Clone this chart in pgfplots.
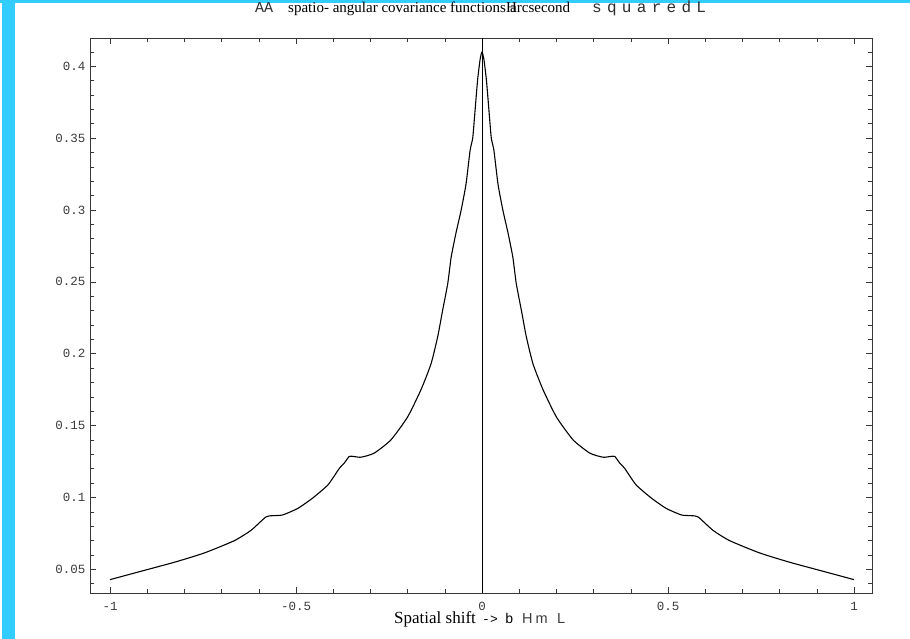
\documentclass[border=0pt]{standalone}
\usepackage{fontspec}
\setmainfont{Liberation Serif}
\newfontfamily\mono{Liberation Mono}
\newfontfamily\sansf{Liberation Sans}
\usepackage{pgfplots}
\usepackage{graphicx}
\pgfplotsset{compat=1.18}
\definecolor{cyanbar}{RGB}{51,204,255}
\definecolor{framegray}{RGB}{55,55,55}
\definecolor{labgray}{RGB}{60,60,60}
\definecolor{titlegray}{RGB}{45,45,45}
\begin{document}
\begin{tikzpicture}[x=1pt,y=1pt]
\useasboundingbox (0,0) rectangle (910,639);
\fill[white] (0,0) rectangle (910,639);
\fill[cyanbar] (1.5,0) rectangle (15,639);
\fill[cyanbar] (0,635.7) rectangle (910,639);
\begin{axis}[
  at={(90pt,46pt)}, anchor=south west,
  scale only axis, width=782pt, height=555pt,
  xmin=-1.0538, xmax=1.0484, ymin=0.0335, ymax=0.4197,
  axis line style={framegray, line width=0.8pt},
  tick style={framegray, line width=0.6pt},
  tick align=inside,
  major tick length=6pt, minor tick length=4pt,
  xtick={-1,-0.5,0,0.5,1},
  xticklabels={-1,-0.5,0,0.5,1},
  minor xtick={-0.9,-0.8,-0.7,-0.6,-0.4,-0.3,-0.2,-0.1,0.1,0.2,0.3,0.4,0.6,0.7,0.8,0.9},
  ytick={0.05,0.1,0.15,0.2,0.25,0.3,0.35,0.4},
  yticklabels={0.05,0.1,0.15,0.2,0.25,0.3,0.35,0.4},
  minor ytick={0.04,0.06,0.07,0.08,0.09,0.11,0.12,0.13,0.14,0.16,0.17,0.18,0.19,0.21,0.22,0.23,0.24,0.26,0.27,0.28,0.29,0.31,0.32,0.33,0.34,0.36,0.37,0.38,0.39,0.41},
  ticklabel style={font=\mono\fontsize{12.5}{12.5}\selectfont, text=labgray},
  xticklabel style={yshift=-6pt},
  yticklabel style={xshift=-1pt},
  clip=false,
]
\addplot[black, line width=0.7pt] coordinates {(0,0.0335) (0,0.4197)};
\addplot[black, line width=1.1pt, line join=round, smooth, tension=0.35] coordinates {
(-1.0,0.0428) (-0.917,0.0486) (-0.827,0.0549) (-0.746,0.0614) (-0.666,0.0699)
(-0.621,0.0771) (-0.581,0.0864) (-0.563,0.0873) (-0.536,0.0878) (-0.495,0.0924)
(-0.455,0.0996) (-0.414,0.1088) (-0.383,0.1204) (-0.37,0.124) (-0.357,0.1285)
(-0.345,0.1285) (-0.325,0.128) (-0.29,0.1308) (-0.245,0.140) (-0.2,0.156)
(-0.164,0.175) (-0.137,0.193) (-0.119,0.212) (-0.106,0.230) (-0.092,0.249)
(-0.083,0.267) (-0.07,0.284) (-0.056,0.300) (-0.043,0.318) (-0.032,0.3415)
(-0.025,0.350) (-0.02,0.365) (-0.012,0.390) (-0.005,0.405) (0,0.410)
(0.005,0.405) (0.012,0.390) (0.02,0.365) (0.025,0.350) (0.032,0.3415)
(0.043,0.318) (0.056,0.300) (0.07,0.284) (0.083,0.267) (0.092,0.249)
(0.106,0.230) (0.119,0.212) (0.137,0.193) (0.164,0.175) (0.2,0.156)
(0.245,0.140) (0.29,0.1308) (0.325,0.128) (0.345,0.1285) (0.357,0.1285)
(0.37,0.124) (0.383,0.1204) (0.414,0.1088) (0.455,0.0996) (0.495,0.0924)
(0.536,0.0878) (0.563,0.0873) (0.581,0.0864) (0.621,0.0771) (0.666,0.0699)
(0.746,0.0614) (0.827,0.0549) (0.917,0.0486) (1.0,0.0428)
};
\end{axis}
% title pieces
\node[anchor=base west, inner sep=0pt] at (255,626.3) {\mono\fontsize{15}{15}\selectfont\color{titlegray}AA};
\node[anchor=base west, inner sep=0pt] at (288,626.3) {\fontsize{15}{15}\selectfont spatio- angular covariance functions};
\node[anchor=base west, inner sep=0pt] at (506,626.3) {\fontsize{15}{15}\selectfont H};
\node[anchor=base west, inner sep=0pt] at (510,626.3) {\fontsize{15}{15}\selectfont arcsecond};
\node[anchor=base west, inner sep=0pt] at (592,626.3) {\mono\fontsize{16}{16}\selectfont\color{titlegray}s\kern5.3pt q\kern5.3pt u\kern5.3pt a\kern5.3pt r\kern5.3pt e\kern5.3pt d\kern5.3pt L};
% x label pieces
\node[anchor=base west, inner sep=0pt] at (394,15) {\fontsize{17}{17}\selectfont Spatial shift};
\node[anchor=base west, inner sep=0pt] at (482,15) {\mono\fontsize{13}{13}\selectfont ->};
\node[anchor=base west, inner sep=0pt] at (505,15) {\mono\fontsize{14}{14}\selectfont b};
\node[anchor=base west, inner sep=0pt] at (522,15) {\sansf\fontsize{14.5}{14.5}\selectfont\color{labgray}H};
\node[anchor=base west, inner sep=0pt] at (535.5,15) {\sansf\fontsize{14.5}{14.5}\selectfont\color{labgray}m};
\node[anchor=base west, inner sep=0pt] at (557,15) {\sansf\fontsize{14.5}{14.5}\selectfont\color{labgray}L};
\end{tikzpicture}
\end{document}
